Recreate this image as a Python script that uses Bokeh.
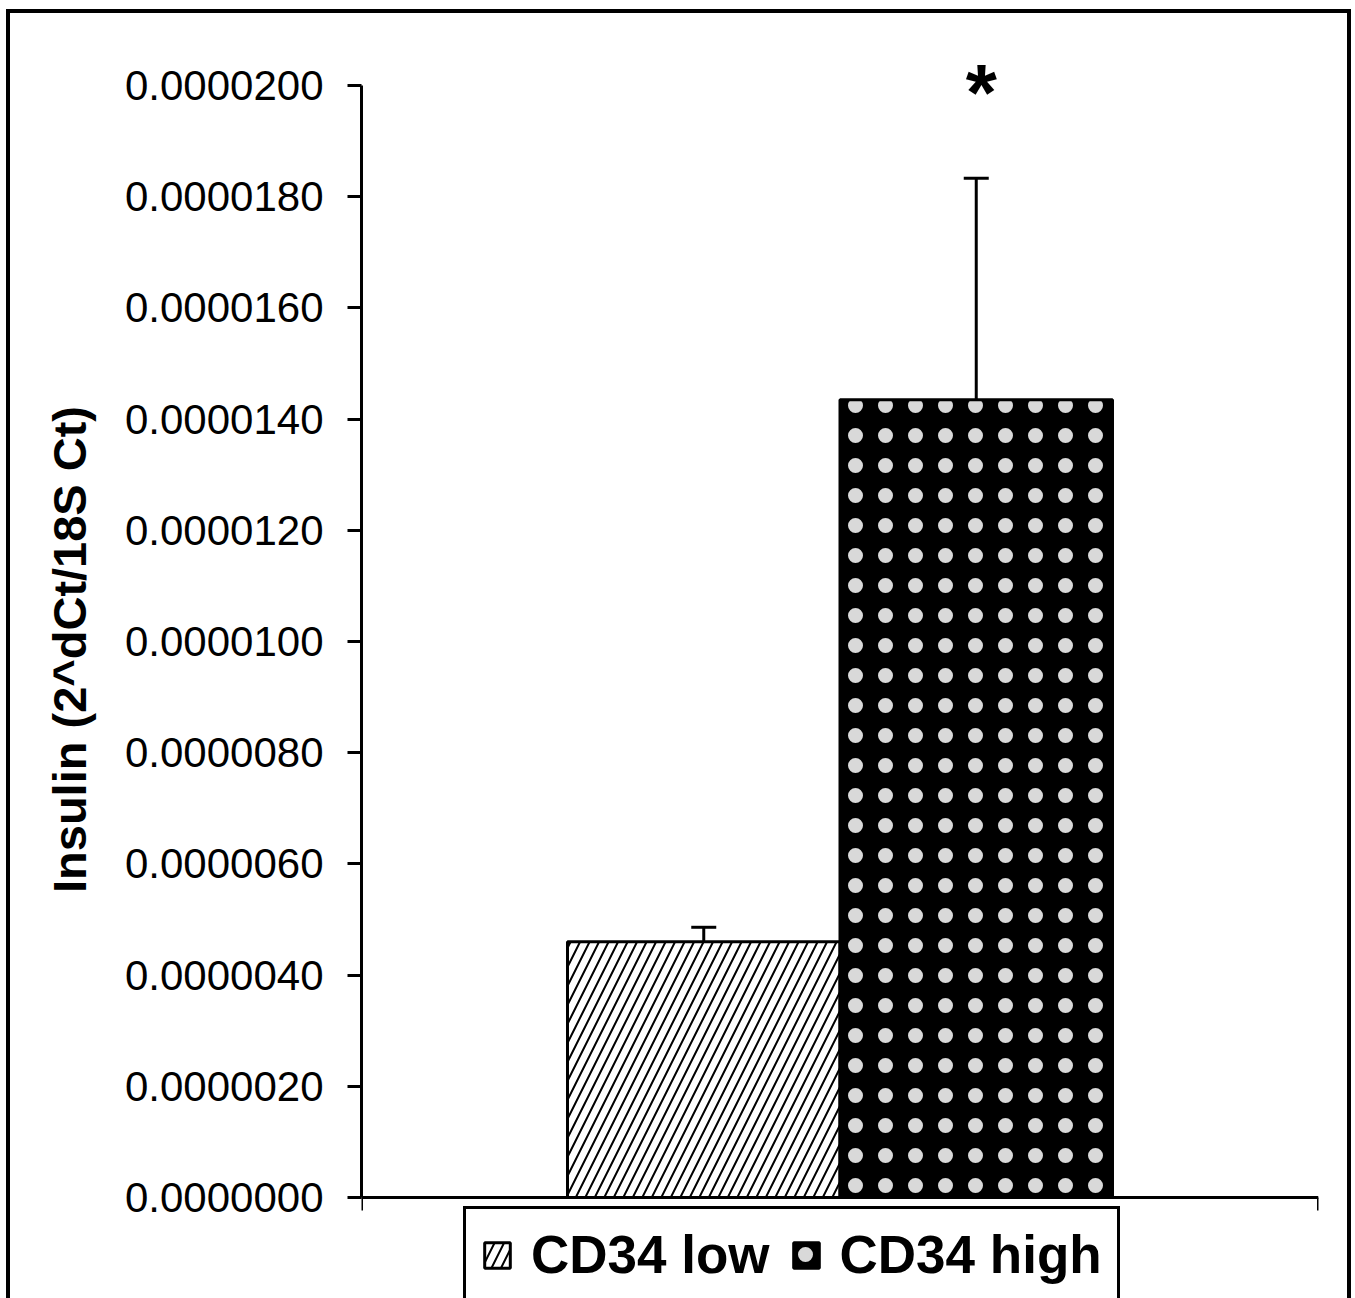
from bokeh.plotting import figure
from bokeh.models import (Range1d, FixedTicker, PrintfTickFormatter,
                          Whisker, TeeHead, ColumnDataSource, Legend, LegendItem)
from bokeh.core.properties import value
from bokeh.embed import file_html
from bokeh.resources import INLINE

# ---- data ----
categories = ["CD34 low", "CD34 high"]
means = [4.60e-6, 14.35e-6]
errors = [0.26e-6, 3.98e-6]
significance = ["", "*"]
y_ticks = [0.0, 2e-6, 4e-6, 6e-6, 8e-6, 10e-6, 12e-6, 14e-6, 16e-6, 18e-6, 20e-6]
y_label = "Insulin (2^dCt/18S Ct)"

FONT = "Liberation Sans"

x_pos = list(range(len(categories)))          # category slots
upper = [m + e for m, e in zip(means, errors)]
src_all = ColumnDataSource(dict(x=x_pos, top=means, upper=upper, sig=significance))

PAD = 1.256
x_range = Range1d(x_pos[0] - PAD, x_pos[-1] + PAD)

# layout: axis spans 1112 px; frame extends 85 px above and 101 px below it
AXIS_PX, TOP_PX, BOT_PX = 1112, 85, 101
u = (y_ticks[-1] - y_ticks[0]) / AXIS_PX
y_range = Range1d(y_ticks[0] - BOT_PX * u, y_ticks[-1] + TOP_PX * u)

p = figure(width=1355, height=1298, output_backend="svg", toolbar_location=None,
           x_range=x_range, y_range=y_range,
           min_border_left=361, min_border_right=37, min_border_top=0, min_border_bottom=0)
p.outline_line_color = None
p.grid.visible = False
p.background_fill_alpha = 0
p.border_fill_alpha = 0
# outer frame of the figure (left, top and right edges; bottom runs off the page)
p.styles = {"background": (
    "linear-gradient(#000,#000) 6px 9px / 4px 1400px no-repeat, "
    "linear-gradient(#000,#000) 6px 9px / 1345px 4px no-repeat, "
    "linear-gradient(#000,#000) 1347px 9px / 4px 1400px no-repeat, #fff")}

r_low = p.vbar(x=[x_pos[0]], top=[means[0]], bottom=0, width=1.0,
               fill_color="white", line_color="black", line_width=3,
               hatch_pattern="/", hatch_color="black", hatch_scale=19, hatch_weight=2)
r_high = p.vbar(x=[x_pos[1]], top=[means[1]], bottom=0, width=1.0,
                fill_color="black", line_color="black", line_width=3,
                hatch_pattern=".", hatch_color="white", hatch_scale=30, hatch_weight=0.5,
                hatch_alpha=0.85)

whisk = Whisker(source=src_all, base="x", upper="upper", lower="top", dimension="height",
                line_width=3, line_color="black",
                upper_head=TeeHead(size=25, line_width=3, line_color="black"), lower_head=None)
p.add_layout(whisk)

p.text(x="x", y="upper", text="sig", source=src_all, text_font=value(FONT),
       text_font_style="bold", text_font_size="80px", text_align="center",
       text_baseline="alphabetic", y_offset=-86, x_offset=5, text_color="black")

# y axis
ya = p.yaxis[0]
ya.bounds = (y_ticks[0], y_ticks[-1])
ya.ticker = FixedTicker(ticks=y_ticks)
ya.formatter = PrintfTickFormatter(format="%.7f")
ya.major_tick_out = 14
ya.major_tick_in = 0
ya.minor_tick_out = 0
ya.minor_tick_in = 0
ya.axis_line_width = 3
ya.major_tick_line_width = 3
ya.axis_line_color = "black"
ya.major_tick_line_color = "black"
ya.major_label_standoff = 24
ya.major_label_text_font = FONT
ya.major_label_text_font_size = "42px"
ya.major_label_text_color = "black"
ya.axis_label = y_label
ya.axis_label_text_font = FONT
ya.axis_label_text_font_size = "47px"
ya.axis_label_text_font_style = "bold"
ya.axis_label_text_color = "black"
ya.axis_label_standoff = 26

# x axis at y = 0, ticks only at the two ends of the category axis
xa = p.xaxis[0]
xa.fixed_location = y_ticks[0]
xa.ticker = FixedTicker(ticks=[x_range.start, x_range.end])
xa.major_label_text_font_size = "0px"
xa.major_label_text_alpha = 0
xa.major_label_standoff = 0
xa.major_tick_out = 0
xa.major_tick_in = -13
xa.minor_tick_out = 0
xa.minor_tick_in = 0
xa.axis_line_width = 3
xa.major_tick_line_width = 3
xa.axis_line_color = "black"
xa.major_tick_line_color = "black"

legend = Legend(items=[LegendItem(label=value(categories[0]), renderers=[r_low]),
                       LegendItem(label=value(categories[1]), renderers=[r_high])],
                orientation="horizontal", location=(102, -5), padding=15, spacing=20,
                label_standoff=18, glyph_width=32, glyph_height=32, label_height=60,
                label_text_font=FONT, label_text_font_size="53px", label_text_font_style="bold",
                label_text_color="black", border_line_color="black", border_line_width=3,
                border_line_alpha=1.0,
                background_fill_color="white", background_fill_alpha=1, margin=0)
p.add_layout(legend, "center")

open("out.html", "w").write(file_html(p, INLINE))
